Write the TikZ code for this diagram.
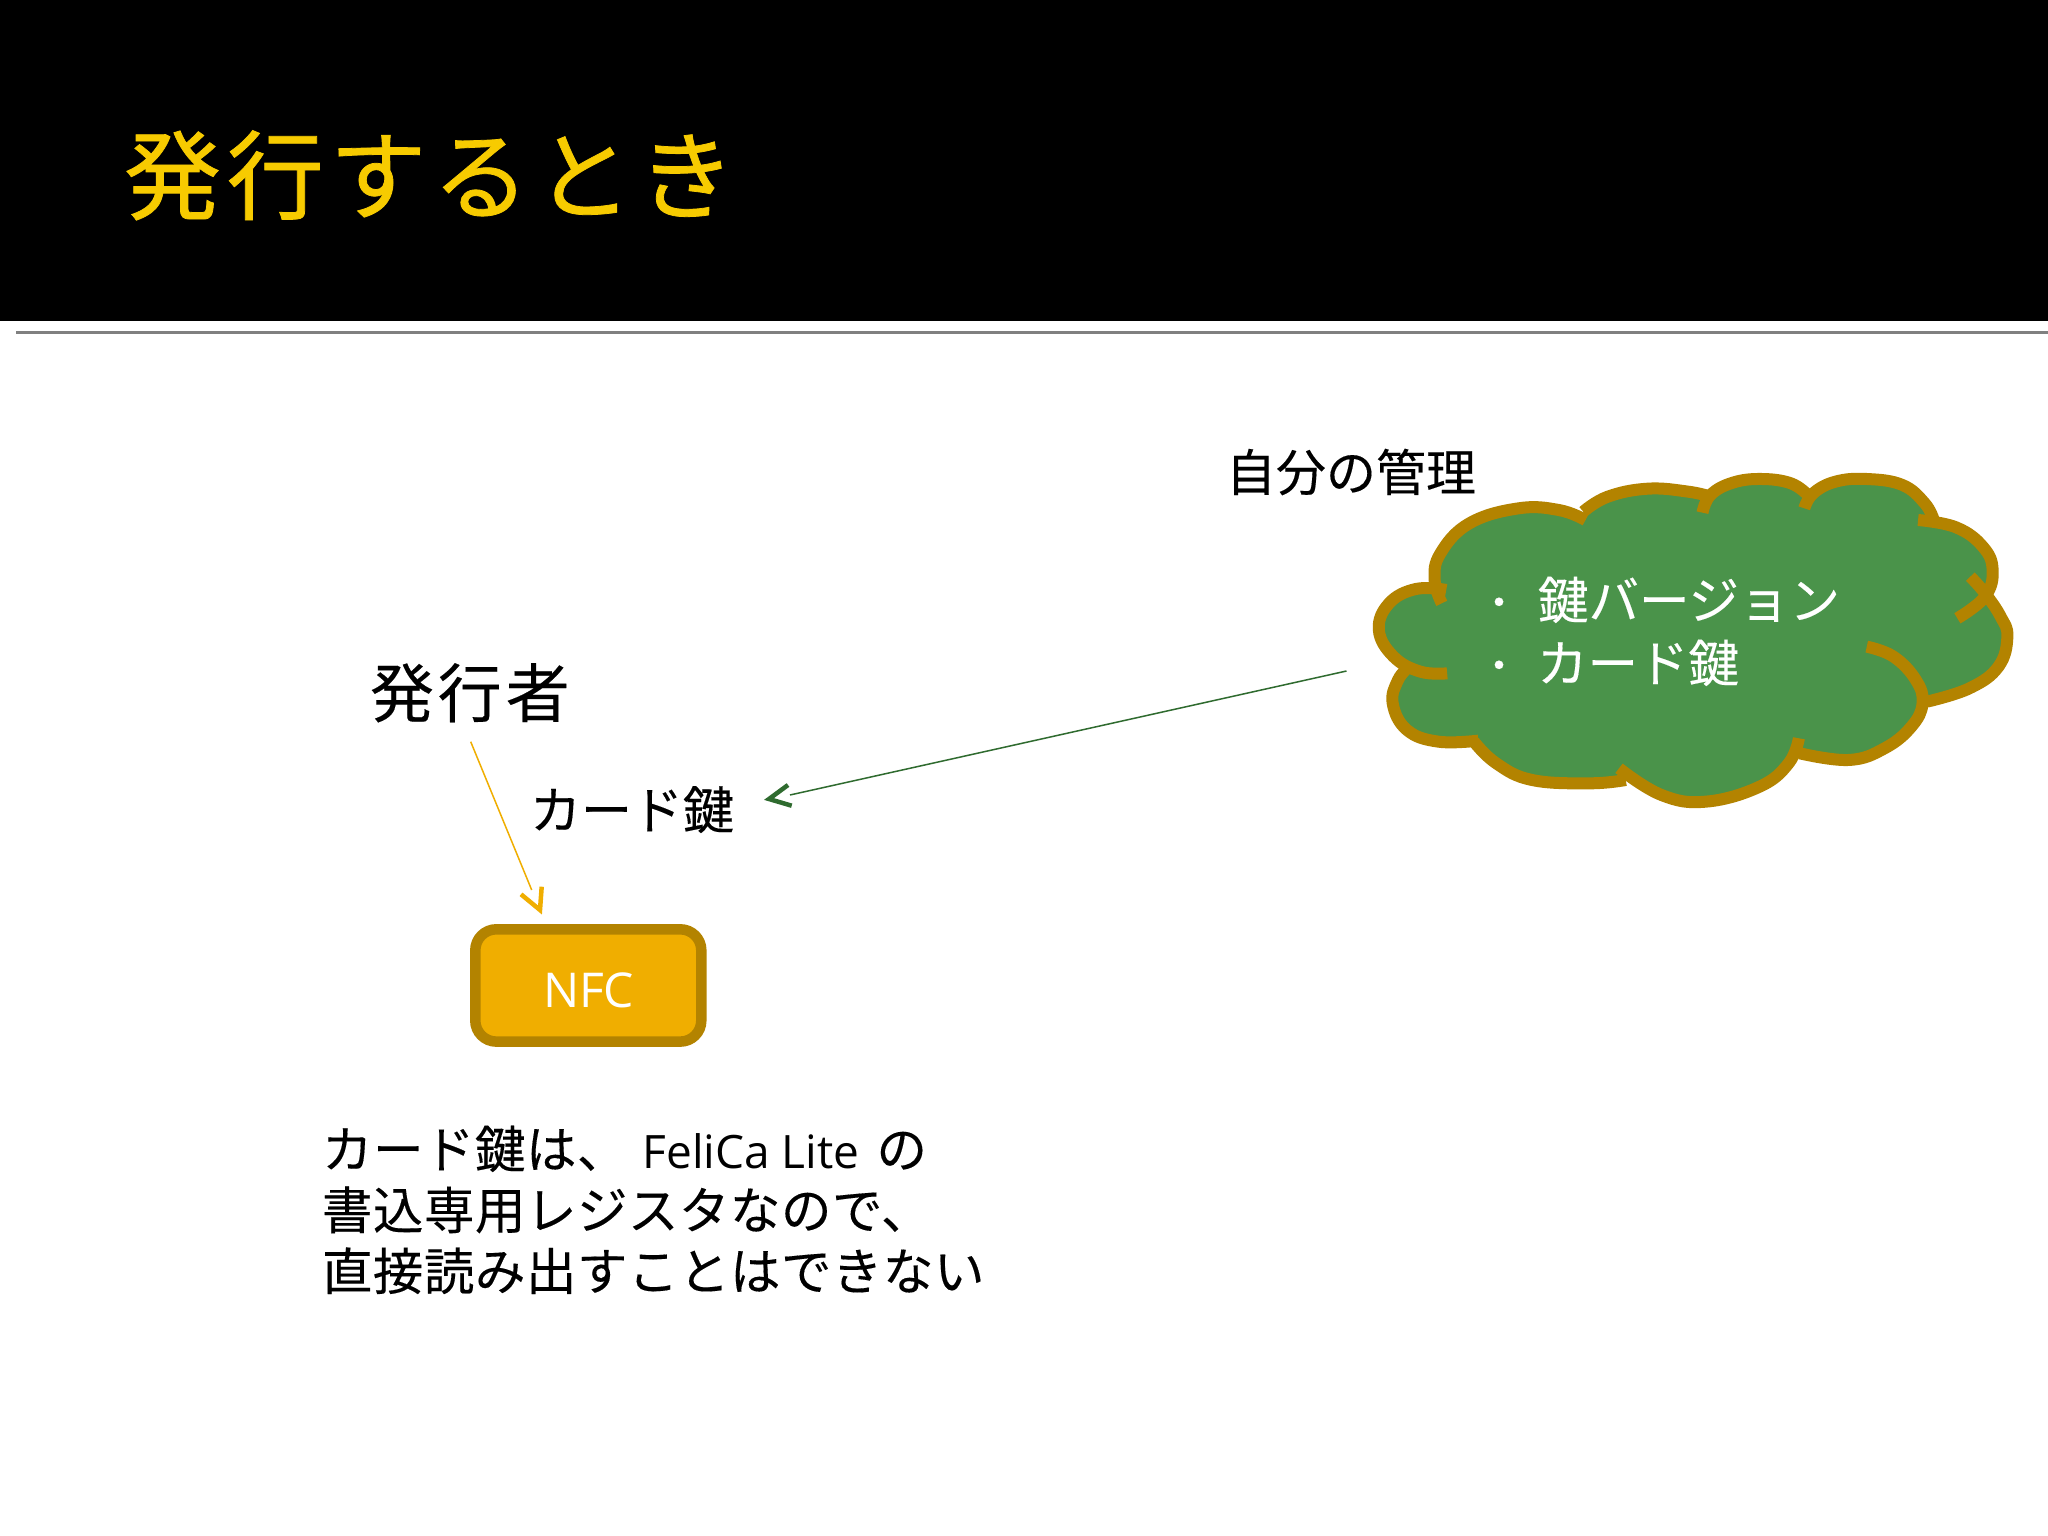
\documentclass[tikz,border=0pt]{standalone}
\usepackage{fontspec}
\setmainfont{Noto Sans CJK JP}[FakeBold=0.25]
\newfontfamily\latinfont{Open Sans}
\usetikzlibrary{arrows.meta}
\definecolor{titlegold}{HTML}{F7CB00}
\definecolor{amberfill}{HTML}{F0AE00}
\definecolor{amberedge}{HTML}{B38300}
\definecolor{cloudfill}{HTML}{4A934A}
\definecolor{greenline}{HTML}{2F6B2F}
\definecolor{rulegray}{HTML}{808080}
\newcommand{\fs}[1]{\fontsize{#1}{#1}\selectfont}
\tikzset{
  label/.style={anchor=base west,inner sep=0pt,outer sep=0pt,text=black},
  thinconn/.style={line width=1.5pt},
  barb/.style={line width=4.5pt,fill=none,miter limit=10},
  lobe/.style={draw=amberedge,line width=12pt,line cap=butt,line join=round,smooth,tension=0.7},
}
\newcommand{\lobeK}{(240,700) (180,695) (120,650) (87,570) (110,490) (170,447) (238,450)}
\newcommand{\lobeA}{(228,490) (212,420) (225,340) (290,250) (400,205) (490,210) (550,240)}
\newcommand{\lobeB}{(545,215) (600,170) (690,146) (780,155) (830,170)}
\newcommand{\lobeC}{(812,218) (830,165) (880,128) (945,117) (1010,130) (1048,165)}
\newcommand{\lobeD}{(1040,205) (1060,160) (1110,125) (1180,117) (1260,135) (1310,190) (1330,240)}
\newcommand{\lobeE}{(1295,240) (1380,262) (1440,320) (1462,390) (1445,470) (1383,535)}
\newcommand{\lobeF}{(1412,410) (1445,460) (1480,530) (1495,590) (1475,680) (1410,745) (1315,785)}
\newcommand{\lobeG}{(1180,620) (1240,650) (1290,720) (1305,790) (1280,860) (1220,925) (1140,960) (1030,940)}
\newcommand{\lobeH}{(1028,895) (1005,970) (940,1040) (820,1085) (720,1065) (625,985)}
\newcommand{\lobeI}{(640,1020) (560,1030) (430,1020) (350,970) (300,905)}
\newcommand{\lobeJ}{(310,902) (220,905) (150,870) (118,790) (130,720) (155,680)}
\begin{document}
\begin{tikzpicture}[x=1pt,y=-1pt]
\useasboundingbox (0,0) rectangle (2048,1536);
\fill[white] (0,0) rectangle (2048,1536);
\fill[black] (0,0) rectangle (2048,321);
\draw[rulegray,line width=3pt] (16,332) -- (2048,332);

\node[label,text=titlegold] (title) at (124,212) {\fs{97}\addfontfeature{LetterSpace=6,FakeBold=0.8}発行するとき};

\begin{scope}[shift={(1340,440)},x=0.4464pt,y=-0.3333pt]
\fill[cloudfill,smooth,tension=0.7] plot coordinates {\lobeK} -- plot coordinates {\lobeA} -- plot coordinates {\lobeB} -- plot coordinates {\lobeC} -- plot coordinates {\lobeD} -- plot coordinates {\lobeE} -- plot coordinates {\lobeF} -- plot coordinates {\lobeG} -- plot coordinates {\lobeH} -- plot coordinates {\lobeI} -- plot coordinates {\lobeJ} -- cycle;
\fill[cloudfill] (300,300) rectangle (1250,900);
\draw[lobe] plot coordinates {\lobeK};
\draw[lobe] plot coordinates {\lobeA};
\draw[lobe] plot coordinates {\lobeB};
\draw[lobe] plot coordinates {\lobeC};
\draw[lobe] plot coordinates {\lobeD};
\draw[lobe] plot coordinates {\lobeE};
\draw[lobe] plot coordinates {\lobeF};
\draw[lobe] plot coordinates {\lobeG};
\draw[lobe] plot coordinates {\lobeH};
\draw[lobe] plot coordinates {\lobeI};
\draw[lobe] plot coordinates {\lobeJ};
\end{scope}

\node[label,text=white] (bulletA) at (1479,617) {\fs{40}・};
\node[label,text=white] (keyver) at (1538,619) {\fs{50.5}鍵バージョン};
\node[label,text=white] (bulletB) at (1479,680) {\fs{40}・};
\node[label,text=white] (cardkeyB) at (1537,682) {\fs{50.5}カード鍵};

\node[label] (manage) at (1226,491) {\fs{50}自分の管理};
\node[label] (issuer) at (370,717) {\fs{64}\addfontfeature{LetterSpace=6}発行者};
\node[label] (cardkey) at (530,829) {\fs{51}カード鍵};

\draw[amberedge,line width=10.5pt,fill=amberfill,rounded corners=21pt] (475.3,929.3) rectangle (701.3,1041.6);
\node[label,text=white] (nfc) at (543,1007) {\fs{48}\latinfont NFC};
\coordinate (nfcin) at (531.7,890);

\coordinate (issuerout) at (470.7,741.7);
\draw[amberfill,thinconn] (issuerout) -- (nfcin);
\coordinate (atip) at (540,910);
\coordinate (aarm1) at (541.7,886.7);
\coordinate (aarm2) at (521,894.3);
\draw[amberfill,barb] (aarm1) -- (atip) -- (aarm2);

\coordinate (cloudout) at (1346.5,671);
\coordinate (keyin) at (790,795);
\draw[greenline,thinconn] (cloudout) -- (keyin);
\coordinate (gtip) at (769,799);
\coordinate (garm1) at (788,785);
\coordinate (garm2) at (791.7,805.7);
\draw[greenline,barb] (garm1) -- (gtip) -- (garm2);

\node[label] (noteA) at (322,1168) {\fs{50.5}\addfontfeature{LetterSpace=1}カード鍵は、\hspace{15pt}{\fs{46}\latinfont FeliCa Lite}\hspace{17pt}の};
\node[label] (noteB) at (322,1229) {\fs{50.5}\addfontfeature{LetterSpace=1}書込専用レジスタなので、};
\node[label] (noteC) at (322,1290) {\fs{50.5}\addfontfeature{LetterSpace=1}直接読み出すことはできない};
\end{tikzpicture}
\end{document}
